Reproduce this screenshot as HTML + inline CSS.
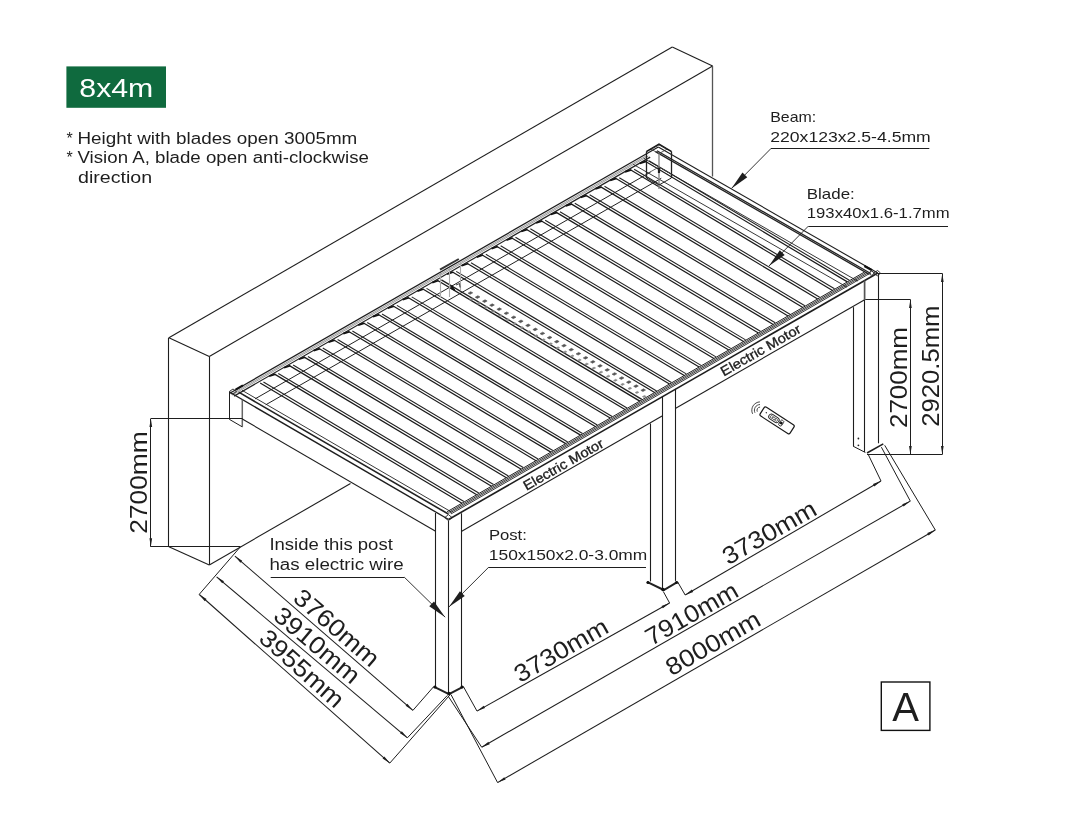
<!DOCTYPE html>
<html><head><meta charset="utf-8"><style>
html,body{margin:0;padding:0;background:#fff;}
svg{display:block;will-change:transform;}
text{font-family:"Liberation Sans", sans-serif;}
</style></head><body>
<svg width="1080" height="831" viewBox="0 0 1080 831">
<rect x="0" y="0" width="1080" height="831" fill="#ffffff"/>
<rect x="66.4" y="66.4" width="99.6" height="41.4" fill="#0f6a3e"/>
<g stroke-linecap="butt">
<line x1="168.90" y1="337.70" x2="672.30" y2="47.00" stroke="#1e1e1e" stroke-width="1.1"/>
<line x1="209.30" y1="356.40" x2="712.60" y2="66.00" stroke="#1e1e1e" stroke-width="1.1"/>
<line x1="672.30" y1="47.00" x2="712.60" y2="66.00" stroke="#1e1e1e" stroke-width="1.1"/>
<line x1="168.90" y1="337.70" x2="209.30" y2="356.40" stroke="#1e1e1e" stroke-width="1.1"/>
<line x1="168.50" y1="337.70" x2="168.50" y2="546.80" stroke="#1e1e1e" stroke-width="1.1"/>
<line x1="209.50" y1="356.40" x2="209.50" y2="564.90" stroke="#1e1e1e" stroke-width="1.1"/>
<line x1="168.90" y1="546.80" x2="209.30" y2="564.90" stroke="#1e1e1e" stroke-width="1.1"/>
<line x1="209.30" y1="564.90" x2="350.50" y2="483.60" stroke="#1e1e1e" stroke-width="1.1"/>
<line x1="712.50" y1="66.00" x2="712.50" y2="176.50" stroke="#555" stroke-width="1.3"/>
<line x1="229.30" y1="393.50" x2="658.30" y2="147.00" stroke="#1e1e1e" stroke-width="1.3"/>
<line x1="229.30" y1="392.00" x2="448.60" y2="519.50" stroke="#1e1e1e" stroke-width="1.4"/>
<line x1="448.60" y1="519.50" x2="877.80" y2="273.00" stroke="#1e1e1e" stroke-width="1.6"/>
<line x1="658.30" y1="147.00" x2="877.80" y2="273.00" stroke="#1e1e1e" stroke-width="1.1"/>
<line x1="230.95" y1="394.40" x2="647.08" y2="155.34" stroke="#222" stroke-width="0.45"/>
<line x1="232.17" y1="395.07" x2="648.30" y2="156.04" stroke="#222" stroke-width="0.45"/>
<line x1="234.08" y1="396.11" x2="650.21" y2="157.14" stroke="#222" stroke-width="1.2"/>
<line x1="238.71" y1="392.18" x2="448.37" y2="514.06" stroke="#222" stroke-width="1.6"/>
<line x1="242.02" y1="390.30" x2="451.67" y2="512.16" stroke="#222" stroke-width="0.9"/>
<line x1="450.96" y1="513.93" x2="868.14" y2="274.35" stroke="#222" stroke-width="0.9"/>
<line x1="449.66" y1="513.17" x2="866.83" y2="273.61" stroke="#222" stroke-width="0.9"/>
<line x1="448.44" y1="512.46" x2="865.62" y2="272.91" stroke="#222" stroke-width="0.9"/>
<line x1="447.14" y1="511.71" x2="864.31" y2="272.16" stroke="#222" stroke-width="1.0"/>
<line x1="656.95" y1="150.79" x2="870.74" y2="273.52" stroke="#222" stroke-width="1.3"/>
<line x1="655.48" y1="151.63" x2="869.27" y2="274.37" stroke="#222" stroke-width="1.3"/>
<line x1="643.79" y1="158.30" x2="857.58" y2="281.09" stroke="#222" stroke-width="0.9"/>
<line x1="633.23" y1="164.34" x2="847.01" y2="287.15" stroke="#222" stroke-width="0.9"/>
<line x1="229.50" y1="392.00" x2="229.50" y2="419.30" stroke="#1e1e1e" stroke-width="1.0"/>
<line x1="242.30" y1="399.56" x2="242.30" y2="426.86" stroke="#666" stroke-width="1.5"/>
<line x1="229.30" y1="419.30" x2="242.30" y2="426.86" stroke="#1e1e1e" stroke-width="1.0"/>
<line x1="242.30" y1="418.96" x2="435.60" y2="531.34" stroke="#1e1e1e" stroke-width="1.1"/>
<line x1="461.30" y1="531.40" x2="662.08" y2="416.09" stroke="#1e1e1e" stroke-width="1.1"/>
<line x1="675.26" y1="408.52" x2="865.10" y2="299.50" stroke="#1e1e1e" stroke-width="1.1"/>
<line x1="260.17" y1="382.90" x2="461.93" y2="503.21" stroke="#1a1a1a" stroke-width="1.2"/>
<line x1="263.45" y1="382.01" x2="463.89" y2="501.58" stroke="#222" stroke-width="1.1"/>
<line x1="275.00" y1="374.39" x2="476.75" y2="494.70" stroke="#1a1a1a" stroke-width="1.2"/>
<line x1="278.28" y1="373.49" x2="478.72" y2="493.07" stroke="#222" stroke-width="1.1"/>
<line x1="269.18" y1="376.26" x2="275.43" y2="374.15" stroke="#111" stroke-width="1.8"/>
<line x1="289.83" y1="365.88" x2="491.58" y2="486.19" stroke="#1a1a1a" stroke-width="1.2"/>
<line x1="293.11" y1="364.98" x2="493.54" y2="484.55" stroke="#222" stroke-width="1.1"/>
<line x1="284.01" y1="367.74" x2="290.25" y2="365.63" stroke="#111" stroke-width="1.8"/>
<line x1="304.65" y1="357.37" x2="506.40" y2="477.68" stroke="#1a1a1a" stroke-width="1.2"/>
<line x1="307.93" y1="356.47" x2="508.36" y2="476.04" stroke="#222" stroke-width="1.1"/>
<line x1="298.83" y1="359.23" x2="305.08" y2="357.12" stroke="#111" stroke-width="1.8"/>
<line x1="319.48" y1="348.85" x2="521.22" y2="469.16" stroke="#1a1a1a" stroke-width="1.2"/>
<line x1="322.76" y1="347.96" x2="523.19" y2="467.53" stroke="#222" stroke-width="1.1"/>
<line x1="313.66" y1="350.71" x2="319.91" y2="348.61" stroke="#111" stroke-width="1.8"/>
<line x1="334.31" y1="340.34" x2="536.05" y2="460.65" stroke="#1a1a1a" stroke-width="1.2"/>
<line x1="337.59" y1="339.45" x2="538.01" y2="459.02" stroke="#222" stroke-width="1.1"/>
<line x1="328.48" y1="342.20" x2="334.73" y2="340.09" stroke="#111" stroke-width="1.8"/>
<line x1="349.13" y1="331.83" x2="550.87" y2="452.14" stroke="#1a1a1a" stroke-width="1.2"/>
<line x1="352.41" y1="330.93" x2="552.84" y2="450.50" stroke="#222" stroke-width="1.1"/>
<line x1="343.31" y1="333.68" x2="349.56" y2="331.58" stroke="#111" stroke-width="1.8"/>
<line x1="363.96" y1="323.31" x2="565.70" y2="443.63" stroke="#1a1a1a" stroke-width="1.2"/>
<line x1="367.24" y1="322.42" x2="567.66" y2="441.99" stroke="#222" stroke-width="1.1"/>
<line x1="358.14" y1="325.17" x2="364.39" y2="323.07" stroke="#111" stroke-width="1.8"/>
<line x1="378.78" y1="314.80" x2="580.52" y2="435.11" stroke="#1a1a1a" stroke-width="1.2"/>
<line x1="382.06" y1="313.91" x2="582.49" y2="433.48" stroke="#222" stroke-width="1.1"/>
<line x1="372.96" y1="316.66" x2="379.21" y2="314.55" stroke="#111" stroke-width="1.8"/>
<line x1="393.61" y1="306.29" x2="595.35" y2="426.60" stroke="#1a1a1a" stroke-width="1.2"/>
<line x1="396.89" y1="305.40" x2="597.31" y2="424.97" stroke="#222" stroke-width="1.1"/>
<line x1="387.79" y1="308.14" x2="394.04" y2="306.04" stroke="#111" stroke-width="1.8"/>
<line x1="408.44" y1="297.77" x2="610.17" y2="418.09" stroke="#1a1a1a" stroke-width="1.2"/>
<line x1="411.72" y1="296.89" x2="612.13" y2="416.46" stroke="#222" stroke-width="1.1"/>
<line x1="402.62" y1="299.63" x2="408.87" y2="297.53" stroke="#111" stroke-width="1.8"/>
<line x1="423.26" y1="289.26" x2="624.99" y2="409.58" stroke="#1a1a1a" stroke-width="1.2"/>
<line x1="426.54" y1="288.37" x2="626.96" y2="407.94" stroke="#222" stroke-width="1.1"/>
<line x1="417.44" y1="291.11" x2="423.69" y2="289.02" stroke="#111" stroke-width="1.8"/>
<line x1="438.09" y1="280.75" x2="639.82" y2="401.06" stroke="#1a1a1a" stroke-width="1.4"/>
<line x1="441.37" y1="279.86" x2="641.78" y2="399.43" stroke="#222" stroke-width="1.3"/>
<line x1="432.27" y1="282.60" x2="438.52" y2="280.50" stroke="#111" stroke-width="1.8"/>
<line x1="452.92" y1="272.24" x2="654.64" y2="392.55" stroke="#1a1a1a" stroke-width="1.2"/>
<line x1="456.20" y1="271.35" x2="656.61" y2="390.92" stroke="#222" stroke-width="1.1"/>
<line x1="447.10" y1="274.08" x2="453.35" y2="271.99" stroke="#111" stroke-width="1.8"/>
<line x1="467.74" y1="263.72" x2="669.47" y2="384.04" stroke="#1a1a1a" stroke-width="1.2"/>
<line x1="471.02" y1="262.84" x2="671.43" y2="382.41" stroke="#222" stroke-width="1.1"/>
<line x1="461.92" y1="265.57" x2="468.17" y2="263.48" stroke="#111" stroke-width="1.8"/>
<line x1="482.57" y1="255.21" x2="684.29" y2="375.53" stroke="#1a1a1a" stroke-width="1.2"/>
<line x1="485.85" y1="254.32" x2="686.26" y2="373.89" stroke="#222" stroke-width="1.1"/>
<line x1="476.75" y1="257.06" x2="483.00" y2="254.96" stroke="#111" stroke-width="1.8"/>
<line x1="497.40" y1="246.70" x2="699.12" y2="367.02" stroke="#1a1a1a" stroke-width="1.2"/>
<line x1="500.68" y1="245.81" x2="701.08" y2="365.38" stroke="#222" stroke-width="1.1"/>
<line x1="491.58" y1="248.54" x2="497.83" y2="246.45" stroke="#111" stroke-width="1.8"/>
<line x1="512.22" y1="238.18" x2="713.94" y2="358.50" stroke="#1a1a1a" stroke-width="1.2"/>
<line x1="515.50" y1="237.30" x2="715.90" y2="356.87" stroke="#222" stroke-width="1.1"/>
<line x1="506.40" y1="240.03" x2="512.65" y2="237.94" stroke="#111" stroke-width="1.8"/>
<line x1="527.05" y1="229.67" x2="728.76" y2="349.99" stroke="#1a1a1a" stroke-width="1.2"/>
<line x1="530.33" y1="228.79" x2="730.73" y2="348.36" stroke="#222" stroke-width="1.1"/>
<line x1="521.23" y1="231.51" x2="527.48" y2="229.42" stroke="#111" stroke-width="1.8"/>
<line x1="541.88" y1="221.16" x2="743.59" y2="341.48" stroke="#1a1a1a" stroke-width="1.2"/>
<line x1="545.16" y1="220.28" x2="745.55" y2="339.85" stroke="#222" stroke-width="1.1"/>
<line x1="536.05" y1="223.00" x2="542.30" y2="220.91" stroke="#111" stroke-width="1.8"/>
<line x1="556.70" y1="212.64" x2="758.41" y2="332.97" stroke="#1a1a1a" stroke-width="1.2"/>
<line x1="559.98" y1="211.76" x2="760.38" y2="331.33" stroke="#222" stroke-width="1.1"/>
<line x1="550.88" y1="214.48" x2="557.13" y2="212.40" stroke="#111" stroke-width="1.8"/>
<line x1="571.53" y1="204.13" x2="773.24" y2="324.45" stroke="#1a1a1a" stroke-width="1.2"/>
<line x1="574.81" y1="203.25" x2="775.20" y2="322.82" stroke="#222" stroke-width="1.1"/>
<line x1="565.71" y1="205.97" x2="571.96" y2="203.89" stroke="#111" stroke-width="1.8"/>
<line x1="586.35" y1="195.62" x2="788.06" y2="315.94" stroke="#1a1a1a" stroke-width="1.2"/>
<line x1="589.64" y1="194.74" x2="790.03" y2="314.31" stroke="#222" stroke-width="1.1"/>
<line x1="580.53" y1="197.46" x2="586.78" y2="195.37" stroke="#111" stroke-width="1.8"/>
<line x1="601.18" y1="187.11" x2="802.89" y2="307.43" stroke="#1a1a1a" stroke-width="1.2"/>
<line x1="604.46" y1="186.23" x2="804.85" y2="305.80" stroke="#222" stroke-width="1.1"/>
<line x1="595.36" y1="188.94" x2="601.61" y2="186.86" stroke="#111" stroke-width="1.8"/>
<line x1="616.01" y1="178.59" x2="817.71" y2="298.92" stroke="#1a1a1a" stroke-width="1.2"/>
<line x1="619.29" y1="177.71" x2="819.68" y2="297.28" stroke="#222" stroke-width="1.1"/>
<line x1="610.19" y1="180.43" x2="616.44" y2="178.35" stroke="#111" stroke-width="1.8"/>
<line x1="630.83" y1="170.08" x2="832.53" y2="290.40" stroke="#1a1a1a" stroke-width="1.2"/>
<line x1="634.11" y1="169.20" x2="834.50" y2="288.77" stroke="#222" stroke-width="1.1"/>
<line x1="625.01" y1="171.91" x2="631.26" y2="169.83" stroke="#111" stroke-width="1.8"/>
<line x1="645.66" y1="161.57" x2="847.36" y2="281.89" stroke="#1a1a1a" stroke-width="1.2"/>
<line x1="648.94" y1="160.69" x2="849.32" y2="280.26" stroke="#222" stroke-width="1.1"/>
<line x1="639.84" y1="163.40" x2="646.09" y2="161.32" stroke="#111" stroke-width="1.8"/>
<line x1="255.00" y1="398.91" x2="650.56" y2="172.09" stroke="#222" stroke-width="1.0"/>
<line x1="265.75" y1="404.80" x2="661.31" y2="178.25" stroke="#222" stroke-width="1.0"/>
<line x1="435.50" y1="513.00" x2="435.50" y2="686.60" stroke="#1e1e1e" stroke-width="1.1"/>
<line x1="448.50" y1="520.60" x2="448.50" y2="694.20" stroke="#1e1e1e" stroke-width="1.1"/>
<line x1="461.50" y1="513.30" x2="461.50" y2="686.60" stroke="#1e1e1e" stroke-width="1.1"/>
<polyline points="433.70,686.60 449.00,694.20 463.40,686.60" stroke="#222" stroke-width="2.0" fill="none"/>
<circle cx="435" cy="687" r="1.6" fill="#111"/><circle cx="462" cy="687" r="1.6" fill="#111"/><circle cx="449" cy="693.5" r="1.8" fill="#111"/>
<line x1="650.50" y1="423.50" x2="650.50" y2="581.40" stroke="#1e1e1e" stroke-width="1.1"/>
<line x1="662.50" y1="396.20" x2="662.50" y2="589.10" stroke="#1e1e1e" stroke-width="1.1"/>
<line x1="675.50" y1="388.80" x2="675.50" y2="580.90" stroke="#1e1e1e" stroke-width="1.1"/>
<polyline points="647.00,581.90 663.80,590.00 677.70,581.90" stroke="#222" stroke-width="2.0" fill="none"/>
<circle cx="648" cy="582.5" r="1.6" fill="#111"/><circle cx="676.5" cy="582.5" r="1.6" fill="#111"/><circle cx="663" cy="589.5" r="1.8" fill="#111"/>
<line x1="853.50" y1="307.20" x2="853.50" y2="446.20" stroke="#1e1e1e" stroke-width="1.1"/>
<line x1="864.60" y1="280.50" x2="864.60" y2="300.00" stroke="#555" stroke-width="1.7"/>
<line x1="864.50" y1="300.00" x2="864.50" y2="452.00" stroke="#1e1e1e" stroke-width="1.1"/>
<line x1="878.50" y1="273.00" x2="878.50" y2="443.30" stroke="#1e1e1e" stroke-width="1.1"/>
<polyline points="853.10,446.20 865.40,452.50" stroke="#1e1e1e" stroke-width="1.0" fill="none"/>
<polyline points="867.00,453.00 883.30,443.90" stroke="#1e1e1e" stroke-width="1.6" fill="none"/>
<polyline points="646.30,151.60 659.00,144.20 671.60,151.60" stroke="#111" stroke-width="1.6" fill="none"/>
<polygon points="651.00,149.20 659.00,144.80 667.00,149.20 659.00,153.60" stroke="#333" stroke-width="0.8" fill="none"/>
<line x1="646.50" y1="151.60" x2="646.50" y2="178.00" stroke="#222" stroke-width="1.3"/>
<line x1="671.50" y1="151.60" x2="671.50" y2="178.00" stroke="#222" stroke-width="1.3"/>
<line x1="659.00" y1="153.60" x2="659.00" y2="189.00" stroke="#888" stroke-width="1.4"/>
<polyline points="646.50,178.00 659.00,185.00 671.30,178.00" stroke="#222" stroke-width="1.0" fill="none"/>
<polyline points="646.50,174.00 659.00,167.00 671.30,174.00" stroke="#444" stroke-width="0.8" fill="none"/>
<line x1="659.00" y1="168.00" x2="659.00" y2="173.00" stroke="#222" stroke-width="2.2"/>
<line x1="440.00" y1="269.60" x2="458.80" y2="259.00" stroke="#333" stroke-width="2.0"/>
<line x1="440.50" y1="273.00" x2="440.50" y2="297.00" stroke="#aaa" stroke-width="1.1"/>
<line x1="449.50" y1="268.00" x2="449.50" y2="297.00" stroke="#aaa" stroke-width="1.1"/>
<line x1="460.50" y1="262.00" x2="460.50" y2="290.00" stroke="#aaa" stroke-width="1.1"/>
<polygon points="451.00,288.50 455.00,290.50 452.00,285.50" stroke="#111" stroke-width="1.0" fill="#111"/>
<polyline points="456.00,285.00 459.50,283.50 460.00,287.50" stroke="#222" stroke-width="0.9" fill="none"/>
<polygon points="468.06,293.14 470.66,291.65 472.74,292.86 470.14,294.35" stroke="#555" stroke-width="0.6" fill="#555"/>
<polygon points="469.58,299.44 471.66,298.25 473.22,299.16 471.14,300.35" stroke="#888" stroke-width="0.6" fill="#888"/>
<polygon points="475.26,297.19 477.86,295.70 479.94,296.91 477.34,298.40" stroke="#555" stroke-width="0.6" fill="#555"/>
<polygon points="476.78,303.49 478.86,302.30 480.42,303.21 478.34,304.40" stroke="#888" stroke-width="0.6" fill="#888"/>
<polygon points="482.46,301.24 485.06,299.75 487.14,300.96 484.54,302.45" stroke="#555" stroke-width="0.6" fill="#555"/>
<polygon points="483.98,307.54 486.06,306.35 487.62,307.26 485.54,308.45" stroke="#888" stroke-width="0.6" fill="#888"/>
<polygon points="489.66,305.29 492.26,303.80 494.34,305.01 491.74,306.50" stroke="#555" stroke-width="0.6" fill="#555"/>
<polygon points="491.18,311.59 493.26,310.40 494.82,311.31 492.74,312.50" stroke="#888" stroke-width="0.6" fill="#888"/>
<polygon points="496.86,309.34 499.46,307.85 501.54,309.06 498.94,310.55" stroke="#555" stroke-width="0.6" fill="#555"/>
<polygon points="498.38,315.64 500.46,314.45 502.02,315.36 499.94,316.55" stroke="#888" stroke-width="0.6" fill="#888"/>
<polygon points="504.06,313.39 506.66,311.90 508.74,313.11 506.14,314.60" stroke="#555" stroke-width="0.6" fill="#555"/>
<polygon points="505.58,319.69 507.66,318.50 509.22,319.41 507.14,320.60" stroke="#888" stroke-width="0.6" fill="#888"/>
<polygon points="511.26,317.44 513.86,315.95 515.94,317.16 513.34,318.65" stroke="#555" stroke-width="0.6" fill="#555"/>
<polygon points="512.78,323.74 514.86,322.55 516.42,323.46 514.34,324.65" stroke="#888" stroke-width="0.6" fill="#888"/>
<polygon points="518.46,321.49 521.06,320.00 523.14,321.21 520.54,322.70" stroke="#555" stroke-width="0.6" fill="#555"/>
<polygon points="519.98,327.79 522.06,326.60 523.62,327.51 521.54,328.70" stroke="#888" stroke-width="0.6" fill="#888"/>
<polygon points="525.66,325.54 528.26,324.05 530.34,325.26 527.74,326.75" stroke="#555" stroke-width="0.6" fill="#555"/>
<polygon points="527.18,331.84 529.26,330.65 530.82,331.56 528.74,332.75" stroke="#888" stroke-width="0.6" fill="#888"/>
<polygon points="532.86,329.59 535.46,328.10 537.54,329.31 534.94,330.80" stroke="#555" stroke-width="0.6" fill="#555"/>
<polygon points="534.38,335.89 536.46,334.70 538.02,335.61 535.94,336.80" stroke="#888" stroke-width="0.6" fill="#888"/>
<polygon points="540.06,333.64 542.66,332.15 544.74,333.36 542.14,334.85" stroke="#555" stroke-width="0.6" fill="#555"/>
<polygon points="541.58,339.94 543.66,338.75 545.22,339.66 543.14,340.85" stroke="#888" stroke-width="0.6" fill="#888"/>
<polygon points="547.26,337.69 549.86,336.20 551.94,337.41 549.34,338.90" stroke="#555" stroke-width="0.6" fill="#555"/>
<polygon points="548.78,343.99 550.86,342.80 552.42,343.71 550.34,344.90" stroke="#888" stroke-width="0.6" fill="#888"/>
<polygon points="554.46,341.74 557.06,340.25 559.14,341.46 556.54,342.95" stroke="#555" stroke-width="0.6" fill="#555"/>
<polygon points="555.98,348.04 558.06,346.85 559.62,347.76 557.54,348.95" stroke="#888" stroke-width="0.6" fill="#888"/>
<polygon points="561.66,345.79 564.26,344.30 566.34,345.51 563.74,347.00" stroke="#555" stroke-width="0.6" fill="#555"/>
<polygon points="563.18,352.09 565.26,350.90 566.82,351.81 564.74,353.00" stroke="#888" stroke-width="0.6" fill="#888"/>
<polygon points="568.86,349.84 571.46,348.35 573.54,349.56 570.94,351.05" stroke="#555" stroke-width="0.6" fill="#555"/>
<polygon points="570.38,356.14 572.46,354.95 574.02,355.86 571.94,357.05" stroke="#888" stroke-width="0.6" fill="#888"/>
<polygon points="576.06,353.89 578.66,352.40 580.74,353.61 578.14,355.10" stroke="#555" stroke-width="0.6" fill="#555"/>
<polygon points="577.58,360.19 579.66,359.00 581.22,359.91 579.14,361.10" stroke="#888" stroke-width="0.6" fill="#888"/>
<polygon points="583.26,357.94 585.86,356.45 587.94,357.66 585.34,359.15" stroke="#555" stroke-width="0.6" fill="#555"/>
<polygon points="584.78,364.24 586.86,363.05 588.42,363.96 586.34,365.15" stroke="#888" stroke-width="0.6" fill="#888"/>
<polygon points="590.46,361.99 593.06,360.50 595.14,361.71 592.54,363.20" stroke="#555" stroke-width="0.6" fill="#555"/>
<polygon points="591.98,368.29 594.06,367.10 595.62,368.01 593.54,369.20" stroke="#888" stroke-width="0.6" fill="#888"/>
<polygon points="597.66,366.04 600.26,364.55 602.34,365.76 599.74,367.25" stroke="#555" stroke-width="0.6" fill="#555"/>
<polygon points="599.18,372.34 601.26,371.15 602.82,372.06 600.74,373.25" stroke="#888" stroke-width="0.6" fill="#888"/>
<polygon points="604.86,370.09 607.46,368.60 609.54,369.81 606.94,371.30" stroke="#555" stroke-width="0.6" fill="#555"/>
<polygon points="606.38,376.39 608.46,375.20 610.02,376.11 607.94,377.30" stroke="#888" stroke-width="0.6" fill="#888"/>
<polygon points="612.06,374.14 614.66,372.65 616.74,373.86 614.14,375.35" stroke="#555" stroke-width="0.6" fill="#555"/>
<polygon points="613.58,380.44 615.66,379.25 617.22,380.16 615.14,381.35" stroke="#888" stroke-width="0.6" fill="#888"/>
<polygon points="619.26,378.19 621.86,376.70 623.94,377.91 621.34,379.40" stroke="#555" stroke-width="0.6" fill="#555"/>
<polygon points="620.78,384.49 622.86,383.30 624.42,384.21 622.34,385.40" stroke="#888" stroke-width="0.6" fill="#888"/>
<polygon points="626.46,382.24 629.06,380.75 631.14,381.96 628.54,383.45" stroke="#555" stroke-width="0.6" fill="#555"/>
<polygon points="627.98,388.54 630.06,387.35 631.62,388.26 629.54,389.45" stroke="#888" stroke-width="0.6" fill="#888"/>
<polygon points="633.66,386.29 636.26,384.80 638.34,386.01 635.74,387.50" stroke="#555" stroke-width="0.6" fill="#555"/>
<polygon points="635.18,392.59 637.26,391.40 638.82,392.31 636.74,393.50" stroke="#888" stroke-width="0.6" fill="#888"/>
<polygon points="640.86,390.34 643.46,388.85 645.54,390.06 642.94,391.55" stroke="#555" stroke-width="0.6" fill="#555"/>
<polygon points="642.38,396.64 644.46,395.45 646.02,396.36 643.94,397.55" stroke="#888" stroke-width="0.6" fill="#888"/>
<polygon points="444.80,517.60 448.40,514.60 452.10,517.60 448.40,520.60" stroke="#222" stroke-width="0.9" fill="none"/>
<polygon points="873.60,273.00 877.60,270.50 880.50,273.00 877.60,276.00" stroke="#222" stroke-width="0.9" fill="none"/>
<polygon points="229.30,391.50 233.00,389.00 236.50,391.50 233.00,394.00" stroke="#222" stroke-width="0.9" fill="none"/>
<line x1="235.60" y1="389.60" x2="242.90" y2="385.40" stroke="#111" stroke-width="2.2"/>
<line x1="864.40" y1="266.00" x2="872.00" y2="270.20" stroke="#111" stroke-width="2.2"/>
<circle cx="871.6" cy="273.2" r="2.0" fill="none" stroke="#222" stroke-width="0.9"/>
<circle cx="858.4" cy="438.5" r="0.9" fill="#222"/>
<circle cx="858.4" cy="445.3" r="0.9" fill="#222"/>
<g transform="translate(777.1 420.4) rotate(32.8)"><rect x="-17.8" y="-5.2" width="35.6" height="10.4" rx="1.8" fill="none" stroke="#1a1a1a" stroke-width="1.2"/><circle cx="-13.2" cy="-0.6" r="0.7" fill="#222"/><rect x="-9.5" y="-2.6" width="11.5" height="5.2" rx="2.6" fill="none" stroke="#222" stroke-width="0.9"/><circle cx="-6.5" cy="0" r="1.3" fill="none" stroke="#333" stroke-width="0.7"/><circle cx="-3.7" cy="0" r="1.3" fill="none" stroke="#333" stroke-width="0.7"/><circle cx="-0.9" cy="0" r="1.3" fill="none" stroke="#333" stroke-width="0.7"/><rect x="3.2" y="-3.0" width="3.4" height="6.0" rx="1.2" fill="none" stroke="#222" stroke-width="0.8"/><rect x="3.6" y="-1.3" width="2.6" height="2.6" fill="#111"/></g>
<path d="M757.30,411.65 A3.2,3.2 0 0 1 760.09,407.10" fill="none" stroke="#333" stroke-width="0.9"/>
<path d="M754.94,412.75 A5.8,5.8 0 0 1 760.00,404.50" fill="none" stroke="#333" stroke-width="0.9"/>
<path d="M752.59,413.85 A8.4,8.4 0 0 1 759.91,401.91" fill="none" stroke="#333" stroke-width="0.9"/>
<line x1="150.80" y1="418.50" x2="242.60" y2="418.50" stroke="#1e1e1e" stroke-width="1.0"/>
<line x1="150.80" y1="546.50" x2="240.40" y2="546.50" stroke="#1e1e1e" stroke-width="1.0"/>
<line x1="150.50" y1="418.60" x2="150.50" y2="546.80" stroke="#1e1e1e" stroke-width="1.05"/>
<polygon points="150.80,418.60 152.15,427.10 149.45,427.10" fill="#1e1e1e"/>
<polygon points="150.80,546.80 149.45,538.30 152.15,538.30" fill="#1e1e1e"/>
<line x1="878.00" y1="273.50" x2="942.30" y2="273.50" stroke="#1e1e1e" stroke-width="1.0"/>
<line x1="865.30" y1="299.50" x2="910.40" y2="299.50" stroke="#1e1e1e" stroke-width="1.0"/>
<line x1="867.00" y1="454.50" x2="942.30" y2="454.50" stroke="#1e1e1e" stroke-width="1.0"/>
<line x1="942.50" y1="273.40" x2="942.50" y2="454.50" stroke="#1e1e1e" stroke-width="1.05"/>
<polygon points="942.30,273.40 943.65,281.90 940.95,281.90" fill="#1e1e1e"/>
<polygon points="942.30,454.50 940.95,446.00 943.65,446.00" fill="#1e1e1e"/>
<line x1="910.50" y1="299.50" x2="910.50" y2="454.50" stroke="#1e1e1e" stroke-width="1.05"/>
<polygon points="910.40,299.50 911.75,308.00 909.05,308.00" fill="#1e1e1e"/>
<polygon points="910.40,454.50 909.05,446.00 911.75,446.00" fill="#1e1e1e"/>
<line x1="240.40" y1="546.80" x2="199.10" y2="594.50" stroke="#1e1e1e" stroke-width="1.0"/>
<line x1="433.70" y1="686.60" x2="412.90" y2="710.40" stroke="#1e1e1e" stroke-width="1.0"/>
<line x1="447.20" y1="695.60" x2="407.40" y2="737.80" stroke="#1e1e1e" stroke-width="1.0"/>
<line x1="450.00" y1="694.80" x2="389.80" y2="763.10" stroke="#1e1e1e" stroke-width="1.0"/>
<line x1="234.90" y1="556.10" x2="412.90" y2="710.40" stroke="#1e1e1e" stroke-width="1.05"/>
<polygon points="234.90,556.10 242.21,560.65 240.44,562.69" fill="#1e1e1e"/>
<polygon points="412.90,710.40 405.59,705.85 407.36,703.81" fill="#1e1e1e"/>
<line x1="216.60" y1="576.80" x2="407.40" y2="737.80" stroke="#1e1e1e" stroke-width="1.05"/>
<polygon points="216.60,576.80 223.97,581.25 222.23,583.31" fill="#1e1e1e"/>
<polygon points="407.40,737.80 400.03,733.35 401.77,731.29" fill="#1e1e1e"/>
<line x1="199.30" y1="594.50" x2="389.80" y2="763.10" stroke="#1e1e1e" stroke-width="1.05"/>
<polygon points="199.30,594.50 206.56,599.12 204.77,601.14" fill="#1e1e1e"/>
<polygon points="389.80,763.10 382.54,758.48 384.33,756.46" fill="#1e1e1e"/>
<line x1="463.40" y1="686.60" x2="477.00" y2="711.10" stroke="#1e1e1e" stroke-width="1.0"/>
<line x1="447.80" y1="695.60" x2="481.70" y2="747.20" stroke="#1e1e1e" stroke-width="1.0"/>
<line x1="451.00" y1="694.60" x2="497.60" y2="782.60" stroke="#1e1e1e" stroke-width="1.0"/>
<line x1="663.30" y1="591.50" x2="669.60" y2="603.00" stroke="#1e1e1e" stroke-width="1.0"/>
<line x1="677.70" y1="582.00" x2="685.20" y2="595.00" stroke="#1e1e1e" stroke-width="1.0"/>
<line x1="868.00" y1="454.00" x2="881.00" y2="481.00" stroke="#1e1e1e" stroke-width="1.0"/>
<line x1="881.40" y1="447.20" x2="910.30" y2="501.10" stroke="#1e1e1e" stroke-width="1.0"/>
<line x1="884.70" y1="445.30" x2="935.30" y2="530.00" stroke="#1e1e1e" stroke-width="1.0"/>
<line x1="477.00" y1="711.10" x2="669.60" y2="603.00" stroke="#1e1e1e" stroke-width="1.05"/>
<polygon points="477.00,711.10 483.75,705.76 485.07,708.12" fill="#1e1e1e"/>
<polygon points="669.60,603.00 662.85,608.34 661.53,605.98" fill="#1e1e1e"/>
<line x1="685.20" y1="595.00" x2="881.00" y2="481.00" stroke="#1e1e1e" stroke-width="1.05"/>
<polygon points="685.20,595.00 691.87,589.56 693.22,591.89" fill="#1e1e1e"/>
<polygon points="881.00,481.00 874.33,486.44 872.98,484.11" fill="#1e1e1e"/>
<line x1="481.70" y1="747.20" x2="910.30" y2="501.10" stroke="#1e1e1e" stroke-width="1.05"/>
<polygon points="481.70,747.20 488.40,741.80 489.74,744.14" fill="#1e1e1e"/>
<polygon points="910.30,501.10 903.60,506.50 902.26,504.16" fill="#1e1e1e"/>
<line x1="497.60" y1="782.60" x2="935.30" y2="530.00" stroke="#1e1e1e" stroke-width="1.05"/>
<polygon points="497.60,782.60 504.29,777.18 505.64,779.52" fill="#1e1e1e"/>
<polygon points="935.30,530.00 928.61,535.42 927.26,533.08" fill="#1e1e1e"/>
<line x1="770.70" y1="148.50" x2="929.30" y2="148.50" stroke="#1e1e1e" stroke-width="1.1"/>
<line x1="770.70" y1="148.80" x2="731.50" y2="188.40" stroke="#1e1e1e" stroke-width="0.9"/>
<polygon points="731.50,188.40 742.45,172.51 747.28,177.29" fill="#1e1e1e"/>
<line x1="808.40" y1="226.50" x2="948.00" y2="226.50" stroke="#1e1e1e" stroke-width="1.1"/>
<line x1="808.40" y1="226.10" x2="768.90" y2="266.10" stroke="#1e1e1e" stroke-width="0.9"/>
<polygon points="768.90,266.10 779.83,250.19 784.67,254.97" fill="#1e1e1e"/>
<line x1="270.70" y1="577.50" x2="404.10" y2="577.50" stroke="#1e1e1e" stroke-width="1.1"/>
<line x1="404.10" y1="577.00" x2="445.20" y2="617.20" stroke="#1e1e1e" stroke-width="0.9"/>
<polygon points="445.20,617.20 429.24,606.35 433.99,601.48" fill="#1e1e1e"/>
<line x1="488.90" y1="567.50" x2="646.00" y2="567.50" stroke="#1e1e1e" stroke-width="1.1"/>
<line x1="488.90" y1="567.00" x2="448.90" y2="607.00" stroke="#1e1e1e" stroke-width="0.9"/>
<polygon points="448.90,607.00 459.93,591.16 464.74,595.97" fill="#1e1e1e"/>
<rect x="881.3" y="682" width="48.6" height="48.4" fill="none" stroke="#111" stroke-width="1.4"/>
</g>
<text x="79.30" y="96.50" font-size="26" text-anchor="start" fill="#ffffff" textLength="74.0" lengthAdjust="spacingAndGlyphs">8x4m</text>
<text x="66.50" y="143.80" font-size="16" text-anchor="start" fill="#1e1e1e">*</text>
<text x="77.50" y="143.80" font-size="16" text-anchor="start" fill="#1e1e1e" textLength="279.8" lengthAdjust="spacingAndGlyphs">Height with blades open 3005mm</text>
<text x="66.50" y="163.40" font-size="16" text-anchor="start" fill="#1e1e1e">*</text>
<text x="77.50" y="163.40" font-size="16" text-anchor="start" fill="#1e1e1e" textLength="291.4" lengthAdjust="spacingAndGlyphs">Vision A, blade open anti-clockwise</text>
<text x="78.00" y="183.00" font-size="16" text-anchor="start" fill="#1e1e1e" textLength="74.1" lengthAdjust="spacingAndGlyphs">direction</text>
<text x="770.20" y="122.10" font-size="14.6" text-anchor="start" fill="#1e1e1e" textLength="46.0" lengthAdjust="spacingAndGlyphs">Beam:</text>
<text x="770.20" y="141.70" font-size="14.6" text-anchor="start" fill="#1e1e1e" textLength="160.6" lengthAdjust="spacingAndGlyphs">220x123x2.5-4.5mm</text>
<text x="806.80" y="199.00" font-size="14.6" text-anchor="start" fill="#1e1e1e" textLength="48.0" lengthAdjust="spacingAndGlyphs">Blade:</text>
<text x="806.80" y="218.30" font-size="14.6" text-anchor="start" fill="#1e1e1e" textLength="142.8" lengthAdjust="spacingAndGlyphs">193x40x1.6-1.7mm</text>
<text x="269.40" y="550.00" font-size="16" text-anchor="start" fill="#1e1e1e" textLength="123.4" lengthAdjust="spacingAndGlyphs">Inside this post</text>
<text x="269.40" y="570.00" font-size="16" text-anchor="start" fill="#1e1e1e" textLength="134.3" lengthAdjust="spacingAndGlyphs">has electric wire</text>
<text x="488.90" y="540.40" font-size="14.6" text-anchor="start" fill="#1e1e1e" textLength="38.0" lengthAdjust="spacingAndGlyphs">Post:</text>
<text x="488.80" y="560.00" font-size="14.6" text-anchor="start" fill="#1e1e1e" textLength="158.5" lengthAdjust="spacingAndGlyphs">150x150x2.0-3.0mm</text>
<text x="905.60" y="720.70" font-size="40" text-anchor="middle" fill="#1e1e1e">A</text>
<text x="147.07" y="482.50" font-size="24.5" text-anchor="middle" fill="#1e1e1e" textLength="102.3" lengthAdjust="spacingAndGlyphs" transform="rotate(-90.00 147.07 482.50)">2700mm</text>
<text x="906.78" y="377.50" font-size="24.5" text-anchor="middle" fill="#1e1e1e" textLength="101.0" lengthAdjust="spacingAndGlyphs" transform="rotate(-90.00 906.78 377.50)">2700mm</text>
<text x="938.88" y="366.10" font-size="24.5" text-anchor="middle" fill="#1e1e1e" textLength="121.2" lengthAdjust="spacingAndGlyphs" transform="rotate(-90.00 938.88 366.10)">2920.5mm</text>
<text x="331.17" y="634.12" font-size="24.5" text-anchor="middle" fill="#1e1e1e" textLength="104.0" lengthAdjust="spacingAndGlyphs" transform="rotate(40.92 331.17 634.12)">3760mm</text>
<text x="311.68" y="651.63" font-size="24.5" text-anchor="middle" fill="#1e1e1e" textLength="104.0" lengthAdjust="spacingAndGlyphs" transform="rotate(40.17 311.68 651.63)">3910mm</text>
<text x="296.39" y="674.76" font-size="24.5" text-anchor="middle" fill="#1e1e1e" textLength="104.0" lengthAdjust="spacingAndGlyphs" transform="rotate(41.58 296.39 674.76)">3955mm</text>
<text x="565.15" y="657.45" font-size="24.5" text-anchor="middle" fill="#1e1e1e" textLength="104.0" lengthAdjust="spacingAndGlyphs" transform="rotate(-29.70 565.15 657.45)">3730mm</text>
<text x="773.35" y="539.65" font-size="24.5" text-anchor="middle" fill="#1e1e1e" textLength="104.0" lengthAdjust="spacingAndGlyphs" transform="rotate(-29.70 773.35 539.65)">3730mm</text>
<text x="695.85" y="620.95" font-size="24.5" text-anchor="middle" fill="#1e1e1e" textLength="102.5" lengthAdjust="spacingAndGlyphs" transform="rotate(-29.70 695.85 620.95)">7910mm</text>
<text x="717.05" y="650.45" font-size="24.5" text-anchor="middle" fill="#1e1e1e" textLength="105.0" lengthAdjust="spacingAndGlyphs" transform="rotate(-29.70 717.05 650.45)">8000mm</text>
<text x="565.64" y="468.50" font-size="13.5" text-anchor="middle" fill="#1e1e1e" textLength="90.0" lengthAdjust="spacingAndGlyphs" transform="rotate(-29.70 565.64 468.50)" stroke="#1e1e1e" stroke-width="0.35">Electric Motor</text>
<text x="762.94" y="354.10" font-size="13.5" text-anchor="middle" fill="#1e1e1e" textLength="90.0" lengthAdjust="spacingAndGlyphs" transform="rotate(-29.70 762.94 354.10)" stroke="#1e1e1e" stroke-width="0.35">Electric Motor</text>
</svg>
</body></html>
